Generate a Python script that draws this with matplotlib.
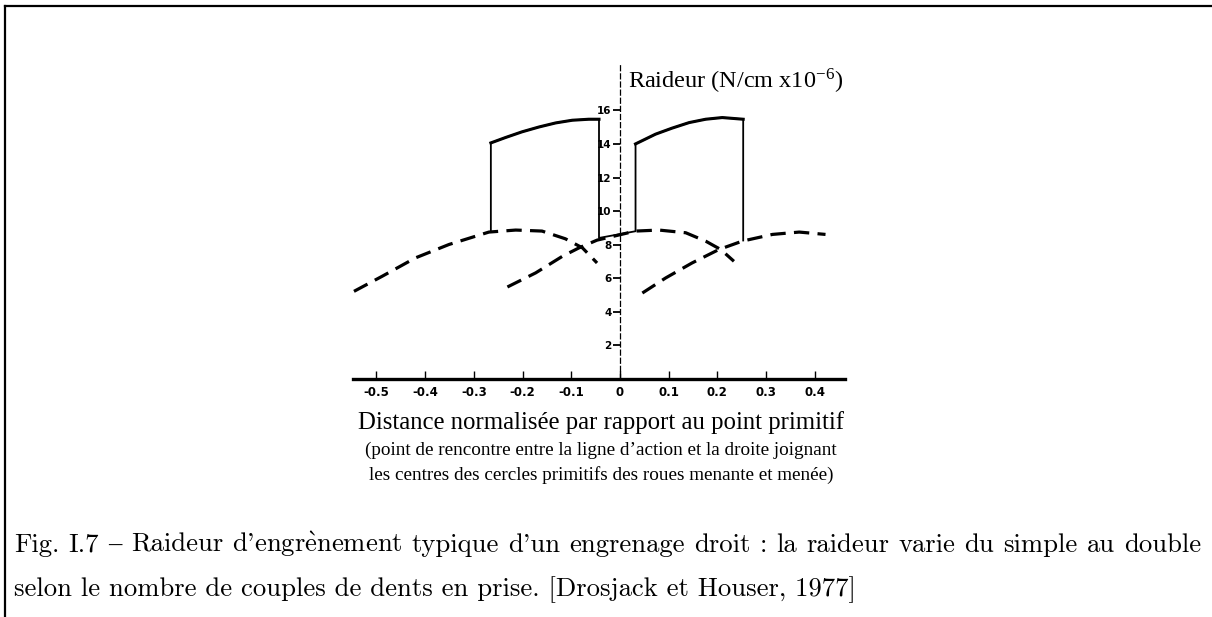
import matplotlib.pyplot as plt
from matplotlib.lines import Line2D

# stiffness of the mesh (solid line), N/cm x1e-6
mesh_x = [-0.265, -0.265, -0.235, -0.201, -0.166, -0.132, -0.098, -0.064, -0.043, -0.043,
          0.032, 0.032, 0.073, 0.107, 0.142, 0.176, 0.210, 0.253, 0.253]
mesh_y = [8.80, 14.06, 14.38, 14.72, 15.01, 15.25, 15.41, 15.47, 15.47, 8.40,
          8.80, 14.00, 14.58, 14.94, 15.27, 15.47, 15.57, 15.47, 8.25]

# stiffness of single tooth pairs (dashed)
pair1_x = [-0.546, -0.488, -0.420, -0.351, -0.269, -0.214, -0.160, -0.112, -0.077, -0.047]
pair1_y = [5.22, 6.12, 7.21, 8.01, 8.75, 8.87, 8.81, 8.35, 7.81, 6.91]
pair2_x = [-0.231, -0.173, -0.118, -0.084, -0.047, 0.032, 0.080, 0.135, 0.176, 0.207, 0.234]
pair2_y = [5.48, 6.32, 7.31, 7.81, 8.27, 8.81, 8.87, 8.71, 8.21, 7.71, 7.01]
pair3_x = [0.046, 0.094, 0.148, 0.203, 0.251, 0.313, 0.368, 0.422]
pair3_y = [5.12, 6.02, 6.91, 7.71, 8.21, 8.61, 8.75, 8.61]

xticks = [-0.5, -0.4, -0.3, -0.2, -0.1, 0, 0.1, 0.2, 0.3, 0.4]
xlabels = ["-0.5", "-0.4", "-0.3", "-0.2", "-0.1", "0", "0.1", "0.2", "0.3", "0.4"]
yticks = [2, 4, 6, 8, 10, 12, 14, 16]

caption1 = ["Fig.", "I.7", "\u2013", "Raideur", "d'engr$\\mathrm{\\grave{e}}$nement", "typique",
            "d'un", "engrenage", "droit", ":", "la", "raideur", "varie", "du", "simple",
            "au", "double"]
caption2 = "selon le nombre de couples de dents en prise. [Drosjack et Houser, 1977]"

W, H = 1212, 617
dpi = 100
fig = plt.figure(figsize=(W / dpi, H / dpi), dpi=dpi)
fig.patch.set_facecolor("white")

def fx(px):
    return px / W

def fy(py):
    return 1 - py / H

# axes placed in pixel coordinates of the reference
ax = fig.add_axes([fx(353), fy(379), (845 - 353) / W, (379 - 65) / H])
ax.set_xlim(-0.548, 0.462)
ax.set_ylim(0, 18.7)
ax.patch.set_alpha(0)

for s in ["top", "right"]:
    ax.spines[s].set_visible(False)
ax.spines["bottom"].set_linewidth(2.4)
ax.spines["left"].set_position(("data", 0))
ax.spines["left"].set_linewidth(0.9)
ax.spines["left"].set_linestyle((0, (4, 2.5)))

ax.set_xticks(xticks)
ax.set_xticklabels(xlabels, fontweight="bold")
ax.set_yticks(yticks)
ax.set_yticklabels([str(v) for v in yticks], fontweight="bold")
ax.tick_params(axis="x", direction="in", length=6, width=1.0, labelsize=8.5, pad=5)
ax.tick_params(axis="y", direction="out", length=5, width=1.3, labelsize=7.5, pad=1)

dash = (0, (4.8, 2.6))
for xs, ys in [(pair1_x, pair1_y), (pair2_x, pair2_y), (pair3_x, pair3_y)]:
    ax.plot(xs, ys, color="black", lw=2.3, linestyle=dash, solid_capstyle="butt")

ax.plot(mesh_x, mesh_y, color="black", lw=1.3)
ax.plot(mesh_x[1:9], mesh_y[1:9], color="black", lw=2.2)
ax.plot(mesh_x[11:18], mesh_y[11:18], color="black", lw=2.2)

serif = ["Liberation Serif", "DejaVu Serif"]

fig.text(fx(628), fy(81), r"Raideur (N/cm x10$^{\mathregular{-6}}$)", family=serif,
         math_fontfamily="stix", fontsize=17.5, ha="left", va="center")

fig.text(fx(601), fy(423), "Distance normalisée par rapport au point primitif",
         family=serif, fontsize=17.8, ha="center", va="center")
fig.text(fx(601), fy(450), "(point de rencontre entre la ligne d\u2019action et la droite joignant",
         family=serif, fontsize=13.8, ha="center", va="center")
fig.text(fx(601), fy(475), "les centres des cercles primitifs des roues menante et menée)",
         family=serif, fontsize=13.8, ha="center", va="center")

# caption in Computer Modern, first line justified word by word
cm = ["cmr10", "DejaVu Serif"]
fs = 19.2
renderer = fig.canvas.get_renderer()
left, right = 14, 1201
words = []
for w in caption1:
    fam = ["Liberation Serif"] if w == "\u2013" else cm
    t = fig.text(0, fy(552), w, family=fam, math_fontfamily="cm", fontsize=fs,
                 ha="left", va="baseline")
    words.append((t, t.get_window_extent(renderer).width))
gap = (right - left - sum(wd for _, wd in words)) / (len(words) - 1)
x = left
for t, wd in words:
    t.set_x(x / W)
    x += wd + gap

fig.text(fx(left), fy(596), caption2, family=cm, fontsize=fs, ha="left", va="baseline")

# page frame
fig.add_artist(Line2D([fx(5), 1], [fy(6), fy(6)], color="black", lw=1.6))
fig.add_artist(Line2D([fx(5), fx(5)], [fy(6), 0], color="black", lw=1.6))

fig.savefig("out.png", dpi=dpi, facecolor="white")
plt.close(fig)
